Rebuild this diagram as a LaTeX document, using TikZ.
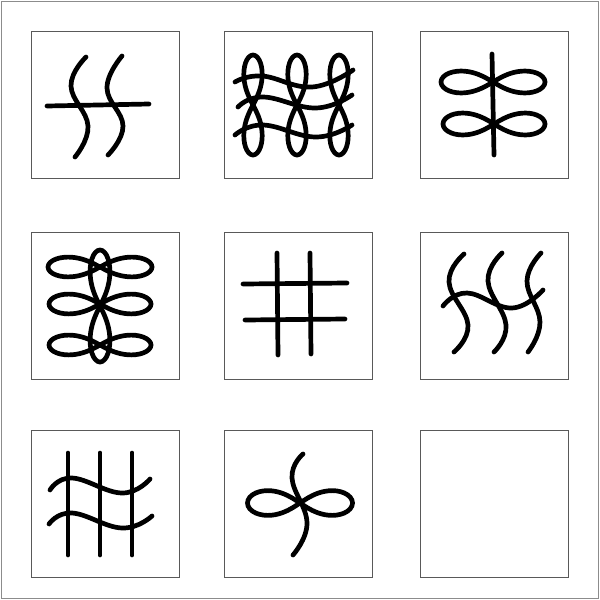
\documentclass[tikz,border=0pt]{standalone}
\usepackage{tikz}

\begin{document}
\begin{tikzpicture}[
  x=1pt, y=-1pt,
  cell/.style={draw=black!65, line width=0.9pt, minimum width=148pt, minimum height=147pt, inner sep=0pt},
  frame/.style={draw=black!45, line width=0.9pt},
  glyph/.style={line width=4.7pt, line cap=round, line join=round},
  wave/.style={glyph, smooth, tension=0.75}
]
\useasboundingbox (0,0) rectangle (600,600);
\draw[frame] (1,1) rectangle (598,598);

% the nine cells
\node[cell] (c1) at (105,104.5) {};
\node[cell] (c2) at (298,104.5) {};
\node[cell] (c3) at (494.5,104.5) {};
\node[cell] (c4) at (105,305.5) {};
\node[cell] (c5) at (298,305.5) {};
\node[cell] (c6) at (494.5,305.5) {};
\node[cell] (c7) at (105,503.5) {};
\node[cell] (c8) at (298,503.5) {};
\node[cell] (c9) at (494.5,503.5) {};

% horizontal loops: centre x / centre y / half width / height factor
\foreach \cx/\cy/\a/\b in {493/82/52/31, 494/124/51/31,
                           100/267/52/28, 100/304/51/28, 100/345/51/28,
                           300/503/52.5/35}
  \draw[glyph] plot[domain=0:360, samples=73, smooth, variable=\t]
    ({\cx+\a*cos(\t)/(1+pow(sin(\t),2))}, {\cy+\b*sin(\t)*cos(\t)/(1+pow(sin(\t),2))}) -- cycle;

% vertical loops
\foreach \cx/\cy/\a/\b in {253/105/50/26, 297/105/50/26, 339/105/50/26,
                           100/306/56/28}
  \draw[glyph] plot[domain=0:360, samples=73, smooth, variable=\t]
    ({\cx+\b*sin(\t)*cos(\t)/(1+pow(sin(\t),2))}, {\cy+\a*cos(\t)/(1+pow(sin(\t),2))}) -- cycle;

% cell 1
\draw[glyph] (47,106) -- (149,104);
\draw[wave] plot coordinates {(86,57) (71,86) (88,126) (75,157)};
\draw[wave] plot coordinates {(122,56) (107,88) (123,126) (108,155)};

% cell 2
\draw[wave] plot coordinates {(235,82) (262,76) (312,87) (353,70)};
\draw[wave] plot coordinates {(238,107) (263,97) (316,108) (352,95)};
\draw[wave] plot coordinates {(235,135) (263,125) (316,137) (352,125)};

% cell 3
\draw[glyph] (492,54) -- (494,155);

% cell 5
\draw[glyph] (277,253) -- (278,355);
\draw[glyph] (310,253) -- (311,354);
\draw[glyph] (243,284) -- (347,283);
\draw[glyph] (245,320) -- (345,319);

% cell 6
\draw[wave] plot coordinates {(464,254) (449,282) (468,325) (454,352)};
\draw[wave] plot coordinates {(502,253) (488,281) (506,325) (494,352)};
\draw[wave] plot coordinates {(541,253) (527,281) (540,322) (528,352)};
\draw[wave] plot coordinates {(443,306) (467,293) (512,308) (543,290)};

% cell 7
\foreach \vx in {68,100,132}
  \draw[glyph] (\vx,453) -- (\vx,555);
\draw[wave] plot coordinates {(50,490) (72,478) (122,493) (150,479)};
\draw[wave] plot coordinates {(49,524) (72,513) (122,528) (152,516)};

% cell 8
\draw[wave] plot coordinates {(303,454) (292,478) (307,523) (293,555)};
\end{tikzpicture}
\end{document}
